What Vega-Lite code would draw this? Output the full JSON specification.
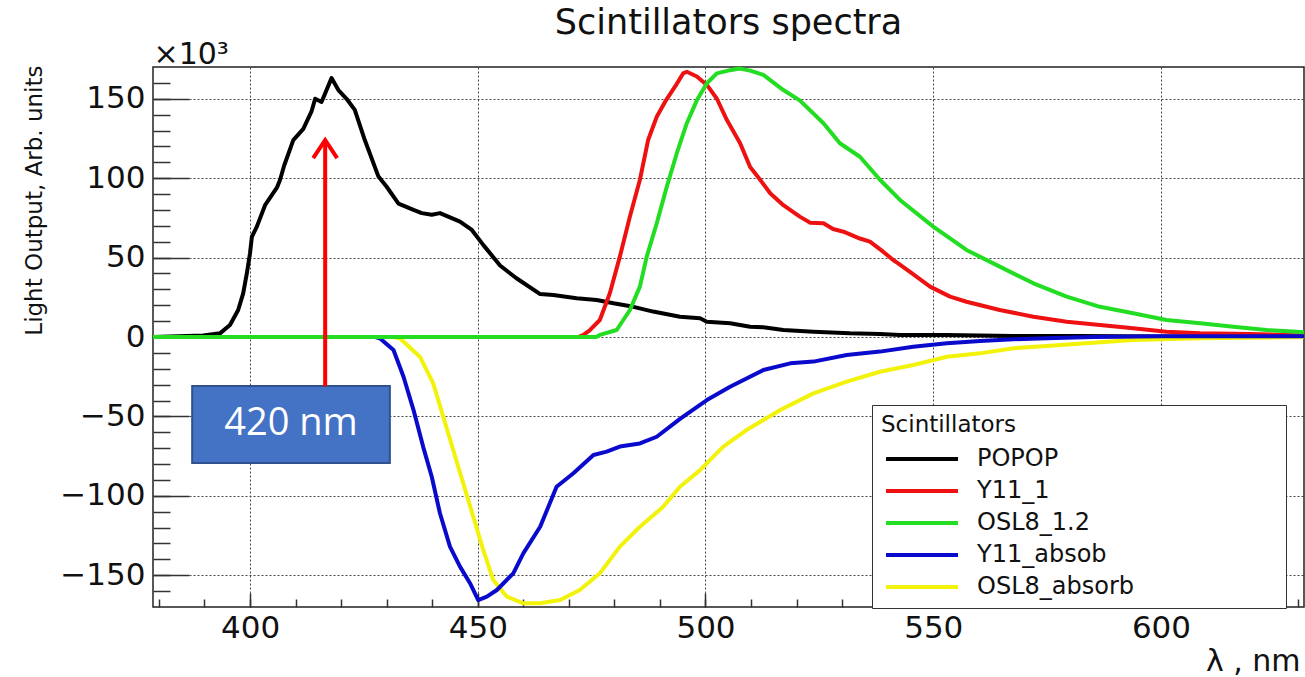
{
  "$schema": "https://vega.github.io/schema/vega-lite/v6.json",
  "width": 1151,
  "height": 540,
  "autosize": {"type": "none"},
  "padding": {"left": 153, "top": 67, "right": 1, "bottom": 70},
  "background": "white",
  "config": {
    "font": "DejaVu Sans",
    "view": {"stroke": "#222222", "strokeWidth": 1.5}
  },
  "title": {
    "text": "Scintillators spectra",
    "fontSize": 35,
    "fontWeight": "normal",
    "font": "DejaVu Sans",
    "color": "#111111",
    "anchor": "middle",
    "frame": "group",
    "baseline": "alphabetic",
    "offset": -30
  },
  "datasets": {
    "spectra": [
      {"s": "POPOP", "x": 378.7, "y": 0},
      {"s": "POPOP", "x": 389.7, "y": 1},
      {"s": "POPOP", "x": 393.4, "y": 2.3},
      {"s": "POPOP", "x": 395.6, "y": 7.6},
      {"s": "POPOP", "x": 397.4, "y": 17},
      {"s": "POPOP", "x": 398.5, "y": 27.5},
      {"s": "POPOP", "x": 399.3, "y": 40},
      {"s": "POPOP", "x": 400, "y": 52.7},
      {"s": "POPOP", "x": 400.4, "y": 63},
      {"s": "POPOP", "x": 401.5, "y": 69.5},
      {"s": "POPOP", "x": 403.3, "y": 83},
      {"s": "POPOP", "x": 405.9, "y": 94},
      {"s": "POPOP", "x": 406.6, "y": 99},
      {"s": "POPOP", "x": 407.5, "y": 108},
      {"s": "POPOP", "x": 409.5, "y": 124},
      {"s": "POPOP", "x": 411.7, "y": 131},
      {"s": "POPOP", "x": 413.5, "y": 142},
      {"s": "POPOP", "x": 414.3, "y": 150},
      {"s": "POPOP", "x": 415.7, "y": 148},
      {"s": "POPOP", "x": 417.9, "y": 163},
      {"s": "POPOP", "x": 419.4, "y": 155.5},
      {"s": "POPOP", "x": 421.2, "y": 150},
      {"s": "POPOP", "x": 423, "y": 143},
      {"s": "POPOP", "x": 425.2, "y": 124},
      {"s": "POPOP", "x": 428.2, "y": 101},
      {"s": "POPOP", "x": 430, "y": 94.6},
      {"s": "POPOP", "x": 432.6, "y": 84},
      {"s": "POPOP", "x": 435.9, "y": 80},
      {"s": "POPOP", "x": 437.7, "y": 78},
      {"s": "POPOP", "x": 439.9, "y": 77},
      {"s": "POPOP", "x": 441.7, "y": 78},
      {"s": "POPOP", "x": 446.1, "y": 72.6},
      {"s": "POPOP", "x": 448.7, "y": 67.4},
      {"s": "POPOP", "x": 451.2, "y": 58},
      {"s": "POPOP", "x": 454.9, "y": 45},
      {"s": "POPOP", "x": 458.5, "y": 37},
      {"s": "POPOP", "x": 463.7, "y": 27},
      {"s": "POPOP", "x": 466.6, "y": 26.4},
      {"s": "POPOP", "x": 471.7, "y": 24.4},
      {"s": "POPOP", "x": 476.1, "y": 23.3},
      {"s": "POPOP", "x": 479.8, "y": 21.2},
      {"s": "POPOP", "x": 484.2, "y": 19},
      {"s": "POPOP", "x": 488.5, "y": 16},
      {"s": "POPOP", "x": 494.4, "y": 12.8},
      {"s": "POPOP", "x": 498.8, "y": 11.8},
      {"s": "POPOP", "x": 500.3, "y": 9.6},
      {"s": "POPOP", "x": 505.4, "y": 8.6},
      {"s": "POPOP", "x": 509.8, "y": 6.5},
      {"s": "POPOP", "x": 512.7, "y": 6.1},
      {"s": "POPOP", "x": 517.1, "y": 4.4},
      {"s": "POPOP", "x": 523.7, "y": 3.3},
      {"s": "POPOP", "x": 531.7, "y": 2.3},
      {"s": "POPOP", "x": 538.3, "y": 1.9},
      {"s": "POPOP", "x": 542.7, "y": 1.3},
      {"s": "POPOP", "x": 552.9, "y": 1.3},
      {"s": "POPOP", "x": 567.5, "y": 0.6},
      {"s": "POPOP", "x": 582.2, "y": 0.6},
      {"s": "POPOP", "x": 600, "y": 0.3},
      {"s": "POPOP", "x": 631.4, "y": 0},

      {"s": "Y11_1", "x": 378.7, "y": 0},
      {"s": "Y11_1", "x": 472, "y": 0},
      {"s": "Y11_1", "x": 473.2, "y": 1.3},
      {"s": "Y11_1", "x": 474.5, "y": 4},
      {"s": "Y11_1", "x": 476.8, "y": 10.7},
      {"s": "Y11_1", "x": 479, "y": 27.5},
      {"s": "Y11_1", "x": 481.2, "y": 50.6},
      {"s": "Y11_1", "x": 483.4, "y": 75.8},
      {"s": "Y11_1", "x": 485.6, "y": 99},
      {"s": "Y11_1", "x": 487.4, "y": 124},
      {"s": "Y11_1", "x": 489.3, "y": 138.7},
      {"s": "Y11_1", "x": 491.1, "y": 148},
      {"s": "Y11_1", "x": 493.3, "y": 157.6},
      {"s": "Y11_1", "x": 495.1, "y": 166},
      {"s": "Y11_1", "x": 495.9, "y": 167},
      {"s": "Y11_1", "x": 498.1, "y": 164},
      {"s": "Y11_1", "x": 500.3, "y": 158.7},
      {"s": "Y11_1", "x": 502.5, "y": 150},
      {"s": "Y11_1", "x": 504.7, "y": 136.6},
      {"s": "Y11_1", "x": 507.6, "y": 122},
      {"s": "Y11_1", "x": 509.8, "y": 107},
      {"s": "Y11_1", "x": 512, "y": 99},
      {"s": "Y11_1", "x": 514.2, "y": 90.5},
      {"s": "Y11_1", "x": 517.1, "y": 83},
      {"s": "Y11_1", "x": 520.7, "y": 75.8},
      {"s": "Y11_1", "x": 523, "y": 72},
      {"s": "Y11_1", "x": 525.9, "y": 71.6},
      {"s": "Y11_1", "x": 528, "y": 68},
      {"s": "Y11_1", "x": 530.3, "y": 66.3},
      {"s": "Y11_1", "x": 533.9, "y": 62},
      {"s": "Y11_1", "x": 536.1, "y": 60},
      {"s": "Y11_1", "x": 539, "y": 53.7},
      {"s": "Y11_1", "x": 541.2, "y": 48.5},
      {"s": "Y11_1", "x": 542.3, "y": 46.4},
      {"s": "Y11_1", "x": 544.9, "y": 41},
      {"s": "Y11_1", "x": 549.3, "y": 31.7},
      {"s": "Y11_1", "x": 553.7, "y": 25.4},
      {"s": "Y11_1", "x": 557.3, "y": 22.2},
      {"s": "Y11_1", "x": 564.6, "y": 17},
      {"s": "Y11_1", "x": 572, "y": 12.8},
      {"s": "Y11_1", "x": 579.3, "y": 9.6},
      {"s": "Y11_1", "x": 586.6, "y": 7.6},
      {"s": "Y11_1", "x": 593.9, "y": 5.5},
      {"s": "Y11_1", "x": 601.2, "y": 3.3},
      {"s": "Y11_1", "x": 608.6, "y": 2.3},
      {"s": "Y11_1", "x": 619.5, "y": 1.9},
      {"s": "Y11_1", "x": 631.4, "y": 1},

      {"s": "OSL8_absorb", "x": 378.7, "y": 0},
      {"s": "OSL8_absorb", "x": 431.5, "y": 0},
      {"s": "OSL8_absorb", "x": 432.9, "y": -0.8},
      {"s": "OSL8_absorb", "x": 437.3, "y": -12.4},
      {"s": "OSL8_absorb", "x": 440.2, "y": -29},
      {"s": "OSL8_absorb", "x": 442.4, "y": -50},
      {"s": "OSL8_absorb", "x": 444.6, "y": -71},
      {"s": "OSL8_absorb", "x": 446.8, "y": -92},
      {"s": "OSL8_absorb", "x": 449, "y": -113},
      {"s": "OSL8_absorb", "x": 451.2, "y": -134},
      {"s": "OSL8_absorb", "x": 453.4, "y": -153},
      {"s": "OSL8_absorb", "x": 456.4, "y": -163.5},
      {"s": "OSL8_absorb", "x": 460, "y": -167.7},
      {"s": "OSL8_absorb", "x": 463.7, "y": -167.7},
      {"s": "OSL8_absorb", "x": 468.1, "y": -165.6},
      {"s": "OSL8_absorb", "x": 472.4, "y": -159.3},
      {"s": "OSL8_absorb", "x": 476.8, "y": -148.8},
      {"s": "OSL8_absorb", "x": 481.2, "y": -132},
      {"s": "OSL8_absorb", "x": 485.6, "y": -119.5},
      {"s": "OSL8_absorb", "x": 490.7, "y": -106.9},
      {"s": "OSL8_absorb", "x": 494.4, "y": -94.3},
      {"s": "OSL8_absorb", "x": 498.8, "y": -83.8},
      {"s": "OSL8_absorb", "x": 503.9, "y": -69},
      {"s": "OSL8_absorb", "x": 509, "y": -58.6},
      {"s": "OSL8_absorb", "x": 516.4, "y": -46},
      {"s": "OSL8_absorb", "x": 523.7, "y": -35.5},
      {"s": "OSL8_absorb", "x": 531, "y": -28.1},
      {"s": "OSL8_absorb", "x": 538.3, "y": -21.9},
      {"s": "OSL8_absorb", "x": 545.6, "y": -17.6},
      {"s": "OSL8_absorb", "x": 553, "y": -12.4},
      {"s": "OSL8_absorb", "x": 560.3, "y": -10.3},
      {"s": "OSL8_absorb", "x": 567.6, "y": -7.1},
      {"s": "OSL8_absorb", "x": 574.9, "y": -5.7},
      {"s": "OSL8_absorb", "x": 585.1, "y": -3.6},
      {"s": "OSL8_absorb", "x": 593.9, "y": -1.9},
      {"s": "OSL8_absorb", "x": 608.6, "y": -0.8},
      {"s": "OSL8_absorb", "x": 631.4, "y": 0},

      {"s": "Y11_absob", "x": 378.7, "y": 0},
      {"s": "Y11_absob", "x": 427.5, "y": 0},
      {"s": "Y11_absob", "x": 428.5, "y": -0.8},
      {"s": "Y11_absob", "x": 431.5, "y": -8.2},
      {"s": "Y11_absob", "x": 433.7, "y": -25},
      {"s": "Y11_absob", "x": 435.9, "y": -46},
      {"s": "Y11_absob", "x": 438, "y": -69},
      {"s": "Y11_absob", "x": 439.9, "y": -88},
      {"s": "Y11_absob", "x": 441.7, "y": -111},
      {"s": "Y11_absob", "x": 443.9, "y": -132},
      {"s": "Y11_absob", "x": 446.1, "y": -144.6},
      {"s": "Y11_absob", "x": 448.3, "y": -155},
      {"s": "Y11_absob", "x": 450.1, "y": -165.6},
      {"s": "Y11_absob", "x": 452, "y": -163.5},
      {"s": "Y11_absob", "x": 454.2, "y": -159.3},
      {"s": "Y11_absob", "x": 457.8, "y": -148.8},
      {"s": "Y11_absob", "x": 460, "y": -136.2},
      {"s": "Y11_absob", "x": 463.7, "y": -119.5},
      {"s": "Y11_absob", "x": 467.3, "y": -94.3},
      {"s": "Y11_absob", "x": 471, "y": -85.8},
      {"s": "Y11_absob", "x": 475.4, "y": -74.3},
      {"s": "Y11_absob", "x": 478.3, "y": -72.2},
      {"s": "Y11_absob", "x": 481.2, "y": -69},
      {"s": "Y11_absob", "x": 485.6, "y": -67},
      {"s": "Y11_absob", "x": 489.3, "y": -62.8},
      {"s": "Y11_absob", "x": 494.4, "y": -51.5},
      {"s": "Y11_absob", "x": 500.3, "y": -39.7},
      {"s": "Y11_absob", "x": 505.4, "y": -31.3},
      {"s": "Y11_absob", "x": 512.7, "y": -20.8},
      {"s": "Y11_absob", "x": 518.6, "y": -16.6},
      {"s": "Y11_absob", "x": 523.7, "y": -15.5},
      {"s": "Y11_absob", "x": 531, "y": -11.3},
      {"s": "Y11_absob", "x": 538.3, "y": -9.2},
      {"s": "Y11_absob", "x": 545.6, "y": -6.1},
      {"s": "Y11_absob", "x": 553, "y": -4},
      {"s": "Y11_absob", "x": 560.3, "y": -2.5},
      {"s": "Y11_absob", "x": 567.6, "y": -1.4},
      {"s": "Y11_absob", "x": 574.9, "y": -0.8},
      {"s": "Y11_absob", "x": 585.1, "y": 0},
      {"s": "Y11_absob", "x": 600, "y": 0.5},
      {"s": "Y11_absob", "x": 631.4, "y": 0.5},

      {"s": "OSL8_1.2", "x": 378.7, "y": 0},
      {"s": "OSL8_1.2", "x": 476, "y": 0},
      {"s": "OSL8_1.2", "x": 476.8, "y": 1.3},
      {"s": "OSL8_1.2", "x": 480.5, "y": 4.4},
      {"s": "OSL8_1.2", "x": 483.4, "y": 17},
      {"s": "OSL8_1.2", "x": 485.6, "y": 31.7},
      {"s": "OSL8_1.2", "x": 487.1, "y": 50.6},
      {"s": "OSL8_1.2", "x": 489.3, "y": 71.6},
      {"s": "OSL8_1.2", "x": 491.5, "y": 94.6},
      {"s": "OSL8_1.2", "x": 493.7, "y": 115.7},
      {"s": "OSL8_1.2", "x": 495.9, "y": 134.6},
      {"s": "OSL8_1.2", "x": 498.1, "y": 149},
      {"s": "OSL8_1.2", "x": 500.3, "y": 159.8},
      {"s": "OSL8_1.2", "x": 502.5, "y": 166},
      {"s": "OSL8_1.2", "x": 505.4, "y": 168},
      {"s": "OSL8_1.2", "x": 507.5, "y": 169},
      {"s": "OSL8_1.2", "x": 509.8, "y": 167.7},
      {"s": "OSL8_1.2", "x": 512.7, "y": 165},
      {"s": "OSL8_1.2", "x": 517.1, "y": 155.5},
      {"s": "OSL8_1.2", "x": 520.7, "y": 149},
      {"s": "OSL8_1.2", "x": 525.9, "y": 134.6},
      {"s": "OSL8_1.2", "x": 529.5, "y": 122},
      {"s": "OSL8_1.2", "x": 533.9, "y": 113.5},
      {"s": "OSL8_1.2", "x": 538.3, "y": 99},
      {"s": "OSL8_1.2", "x": 542.7, "y": 86.3},
      {"s": "OSL8_1.2", "x": 550, "y": 69.5},
      {"s": "OSL8_1.2", "x": 557.3, "y": 54.8},
      {"s": "OSL8_1.2", "x": 564.6, "y": 44.3},
      {"s": "OSL8_1.2", "x": 572, "y": 33.8},
      {"s": "OSL8_1.2", "x": 579.3, "y": 25.4},
      {"s": "OSL8_1.2", "x": 586.6, "y": 19},
      {"s": "OSL8_1.2", "x": 593.9, "y": 14.9},
      {"s": "OSL8_1.2", "x": 601.2, "y": 10.7},
      {"s": "OSL8_1.2", "x": 608.6, "y": 8.6},
      {"s": "OSL8_1.2", "x": 615.9, "y": 6.5},
      {"s": "OSL8_1.2", "x": 623.2, "y": 4.4},
      {"s": "OSL8_1.2", "x": 629.8, "y": 3.3},
      {"s": "OSL8_1.2", "x": 631.4, "y": 3}
    ],
    "box": [{"x1": 387.3, "x2": 430.7, "y1": -30.9, "y2": -79.3}],
    "label": [{"x": 409, "y": -55, "t": "420 nm"}],
    "arrow": [{"x": 416.5, "y1": -31, "y2": 124}]
  },
  "layer": [
    {
      "data": {"name": "spectra"},
      "mark": {"type": "line", "strokeWidth": 4, "strokeJoin": "round"},
      "encoding": {
        "x": {
          "field": "x", "type": "quantitative",
          "scale": {"domain": [378.7, 631.4], "nice": false, "zero": false},
          "axis": {
            "orient": "bottom", "values": [400, 450, 500, 550, 600],
            "ticks": false, "domain": false, "grid": true,
            "gridColor": "#444444", "gridDash": [2, 2], "gridWidth": 1,
            "labelFontSize": 31, "labelPadding": 6, "labelColor": "#111111",
            "title": "λ , nm", "titleFontSize": 30, "titleFontWeight": "normal",
            "titleColor": "#111111", "titleAnchor": "end", "titleAlign": "right",
            "titleX": 1147, "titleY": 63, "titleBaseline": "alphabetic"
          }
        },
        "y": {
          "field": "y", "type": "quantitative",
          "scale": {"domain": [-170, 170], "nice": false, "zero": false},
          "axis": {
            "orient": "left", "values": [-150, -100, -50, 0, 50, 100, 150],
            "ticks": false, "domain": false, "grid": true,
            "gridColor": "#444444", "gridDash": [2, 2], "gridWidth": 1,
            "labelFontSize": 31, "labelPadding": 8, "labelColor": "#111111",
            "title": "×10³", "titleFontSize": 30, "titleFontWeight": "normal",
            "titleColor": "#111111", "titleAngle": 0, "titleAlign": "left",
            "titleBaseline": "alphabetic", "titleX": 0, "titleY": -4
          }
        },
        "color": {
          "field": "s", "type": "nominal",
          "scale": {
            "domain": ["POPOP", "Y11_1", "OSL8_1.2", "Y11_absob", "OSL8_absorb"],
            "range": ["#000000", "#EE1111", "#22DD22", "#0A0ACC", "#F2F20A"]
          },
          "legend": {
            "orient": "none", "legendX": 719, "legendY": 338,
            "title": "Scintillators", "titleFontSize": 23, "titleFontWeight": "normal",
            "titleColor": "#111111", "titlePadding": 8,
            "labelFontSize": 24, "labelColor": "#111111", "labelLimit": 500,
            "labelExpr": "datum.label + '\u2007\u2007\u2007\u2007\u2007\u2007\u2007\u2007\u2007\u2009\u200b'",
            "symbolType": "M-3,0L3,0", "symbolSize": 576, "symbolStrokeWidth": 4,
            "symbolOffset": 27, "labelOffset": 41, "rowPadding": 6,
            "padding": 9, "strokeColor": "#333333", "fillColor": "white"
          }
        }
      }
    },
    {
      "data": {"name": "box"},
      "mark": {"type": "rect", "fill": "#4472C4", "stroke": "#2F528F", "strokeWidth": 2},
      "encoding": {
        "x": {
          "field": "x1", "type": "quantitative",
          "axis": {
            "orient": "bottom", "values": [400, 450, 500, 550, 600],
            "labels": false, "grid": false, "domain": false, "ticks": true,
            "tickSize": -14, "tickWidth": 1.5, "tickColor": "#333333", "title": null
          }
        },
        "x2": {"field": "x2"},
        "y": {
          "field": "y1", "type": "quantitative",
          "axis": {
            "orient": "left", "values": [-150, -100, -50, 0, 50, 100, 150],
            "labels": false, "grid": false, "domain": false, "ticks": true,
            "tickSize": -36, "tickWidth": 1.5, "tickColor": "#333333",
            "title": "Light Output, Arb. units", "titleFontSize": 23,
            "titleFontWeight": "normal", "titleColor": "#111111",
            "titleAngle": -90, "titleAlign": "right", "titleBaseline": "alphabetic",
            "titleX": -112, "titleY": -2
          }
        },
        "y2": {"field": "y2"}
      }
    },
    {
      "data": {"name": "arrow"},
      "mark": {"type": "rule", "color": "#FF0000", "strokeWidth": 4},
      "encoding": {
        "x": {"field": "x", "type": "quantitative", "axis": null},
        "y": {"field": "y1", "type": "quantitative", "axis": null},
        "y2": {"field": "y2"}
      }
    },
    {
      "data": {"name": "arrow"},
      "mark": {
        "type": "point", "shape": "M-1,1.5L0,0L1,1.5", "size": 576,
        "filled": false, "stroke": "#FF0000", "strokeWidth": 4, "opacity": 1,
        "strokeJoin": "miter"
      },
      "encoding": {
        "x": {"field": "x", "type": "quantitative", "axis": null},
        "y": {"field": "y2", "type": "quantitative", "axis": null}
      }
    },
    {
      "data": {"name": "label"},
      "mark": {
        "type": "text", "font": "Open Sans", "fontSize": 38, "color": "white",
        "align": "center", "baseline": "middle"
      },
      "encoding": {
        "x": {
          "field": "x", "type": "quantitative",
          "axis": {
            "orient": "bottom",
            "values": [380, 390, 400, 410, 420, 430, 440, 450, 460, 470, 480, 490, 500, 510, 520, 530, 540, 550, 560, 570, 580, 590, 600, 610, 620, 630],
            "labels": false, "grid": false, "domain": false, "ticks": true,
            "tickSize": -8, "tickWidth": 1.5, "tickColor": "#333333", "title": null
          }
        },
        "y": {
          "field": "y", "type": "quantitative",
          "axis": {
            "orient": "left",
            "values": [-160, -150, -140, -130, -120, -110, -100, -90, -80, -70, -60, -50, -40, -30, -20, -10, 0, 10, 20, 30, 40, 50, 60, 70, 80, 90, 100, 110, 120, 130, 140, 150, 160],
            "labels": false, "grid": false, "domain": false, "ticks": true,
            "tickSize": -17, "tickWidth": 1.5, "tickColor": "#333333", "title": null
          }
        },
        "text": {"field": "t"}
      }
    }
  ],
  "resolve": {"axis": {"x": "independent", "y": "independent"}}
}
